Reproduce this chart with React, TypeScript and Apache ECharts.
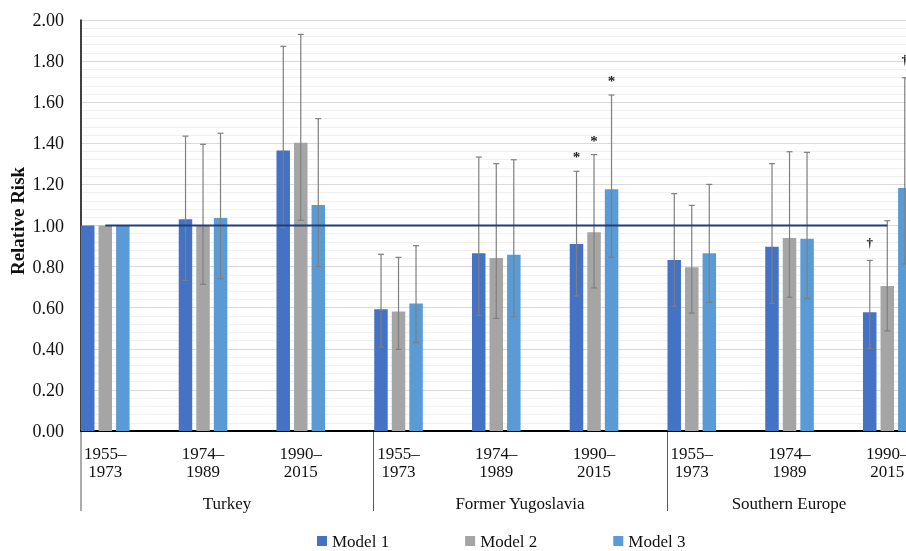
import React, { useEffect, useRef } from "react";
import * as echarts from "echarts";

const categories = [
  "1955–\n1973", "1974–\n1989", "1990–\n2015",
  "1955–\n1973", "1974–\n1989", "1990–\n2015",
  "1955–\n1973", "1974–\n1989", "1990–\n2015",
];
const regions = ["Turkey", "Former Yugoslavia", "Southern Europe"];

const model1 = [1.0, 1.03, 1.365, 0.592, 0.865, 0.91, 0.832, 0.897, 0.578];
const model1Upper = [null, 1.435, 1.872, 0.86, 1.333, 1.264, 1.155, 1.301, 0.83];
const model1Lower = [null, 0.733, 0.99, 0.409, 0.563, 0.657, 0.607, 0.621, 0.402];
const model1Marks = ["", "", "", "", "", "*", "", "", "†"];

const model2 = [1.0, 1.0, 1.403, 0.581, 0.842, 0.967, 0.797, 0.939, 0.706];
const model2Upper = [null, 1.395, 1.93, 0.845, 1.301, 1.345, 1.098, 1.359, 1.023];
const model2Lower = [null, 0.714, 1.025, 0.397, 0.548, 0.696, 0.574, 0.651, 0.487];
const model2Marks = ["", "", "", "", "", "*", "", "", ""];

const model3 = [1.0, 1.036, 1.1, 0.621, 0.858, 1.176, 0.865, 0.936, 1.182];
const model3Upper = [null, 1.449, 1.52, 0.902, 1.32, 1.635, 1.2, 1.356, 1.719];
const model3Lower = [null, 0.741, 0.8, 0.43, 0.556, 0.845, 0.626, 0.644, 0.813];
const model3Marks = ["", "", "", "", "", "*", "", "", "†"];

const referenceLine = categories.map(() => 1.0);

const FONT = "Liberation Serif, Times New Roman, serif";
const C1 = "#4472C4";
const C2 = "#A5A5A5";
const C3 = "#5B9BD5";
const ERR = "#7F7F7F";

const CHART_W = 940;
const VIEW_W = 906;

function errData(upper: (number | null)[], lower: (number | null)[]) {
  const out: any[] = [];
  upper.forEach((u, i) => {
    if (u != null && lower[i] != null) out.push([i, u, lower[i]]);
  });
  return out;
}

function makeRender(offset: number, marks: string[]) {
  return (params: any, api: any) => {
    const idx = api.value(0);
    const up = api.value(1);
    const lo = api.value(2);
    const p1 = api.coord([idx, up]);
    const p2 = api.coord([idx, lo]);
    const x = p1[0] + offset;
    const cap = 3;
    const lineStyle = { stroke: ERR, lineWidth: 1.2 };
    const children: any[] = [
      { type: "line", shape: { x1: x, y1: p1[1], x2: x, y2: p2[1] }, style: lineStyle },
      { type: "line", shape: { x1: x - cap, y1: p1[1], x2: x + cap, y2: p1[1] }, style: lineStyle },
      { type: "line", shape: { x1: x - cap, y1: p2[1], x2: x + cap, y2: p2[1] }, style: lineStyle },
    ];
    const m = marks[idx];
    if (m) {
      const isStar = m === "*";
      children.push({
        type: "text",
        style: {
          text: m,
          x: x,
          y: p1[1] - (isStar ? 14 : 18),
          align: "center",
          verticalAlign: "middle",
          font: (isStar ? "bold 15px " : "bold 13px ") + FONT,
          fill: "#222",
        },
      });
    }
    return { type: "group", children };
  };
}

export default function App() {
  const ref = useRef<HTMLDivElement>(null);
  useEffect(() => {
    if (!ref.current) return;
    const chart = echarts.init(ref.current, undefined, { renderer: "svg" });
    const top = 20;
    const bottom = 120;
    const barW = 13.5;
    const step = 17.5;
    const option: any = {
      animation: false,
      textStyle: { fontFamily: FONT },
      grid: [
        { left: 81, right: CHART_W - VIEW_W, top, bottom, containLabel: false },
        { left: 56.4, width: 879.75, top, bottom, containLabel: false },
      ],
      xAxis: [
        {
          gridIndex: 0, type: "value", min: 0, max: 1,
          axisLine: { show: true, onZero: false, lineStyle: { color: "#000", width: 2 } },
          axisTick: { show: false }, axisLabel: { show: false }, splitLine: { show: false },
        },
        {
          gridIndex: 1, type: "category", data: categories,
          axisLine: { show: false }, axisTick: { show: false },
          axisLabel: {
            interval: 0, margin: 13, color: "#111", fontSize: 17, lineHeight: 18, fontFamily: FONT,
          },
        },
      ],
      yAxis: [
        {
          gridIndex: 0, type: "value", min: 0, max: 2, interval: 0.2,
          axisLine: { show: true, lineStyle: { color: "#000", width: 1.5 } },
          axisTick: { show: false },
          axisLabel: {
            margin: 17, color: "#111", fontSize: 18, fontFamily: FONT,
            formatter: (v: number) => v.toFixed(2),
          },
          splitLine: { show: true, lineStyle: { color: "#D9D9D9", width: 1 } },
          minorTick: { show: false, splitNumber: 5 },
          minorSplitLine: { show: true, lineStyle: { color: "#F0F0F0", width: 1 } },
        },
        {
          gridIndex: 1, type: "value", min: 0, max: 2, interval: 0.2,
          axisLine: { show: false }, axisTick: { show: false }, axisLabel: { show: false },
          splitLine: { show: false },
        },
      ],
      legend: {
        data: ["Model 1", "Model 2", "Model 3"],
        left: 317, top: 532, itemWidth: 10, itemHeight: 10, itemGap: 76, icon: "rect",
        padding: 0,
        textStyle: { fontSize: 17, lineHeight: 18, fontFamily: FONT, color: "#111" },
      },
      series: [
        { name: "Model 1", type: "bar", xAxisIndex: 1, yAxisIndex: 1, data: model1, barWidth: barW, barGap: "30%", itemStyle: { color: C1 }, z: 2 },
        { name: "Model 2", type: "bar", xAxisIndex: 1, yAxisIndex: 1, data: model2, barWidth: barW, barGap: "30%", itemStyle: { color: C2 }, z: 2 },
        { name: "Model 3", type: "bar", xAxisIndex: 1, yAxisIndex: 1, data: model3, barWidth: barW, barGap: "30%", itemStyle: { color: C3 }, z: 2 },
        { type: "custom", xAxisIndex: 1, yAxisIndex: 1, data: errData(model1Upper, model1Lower), renderItem: makeRender(-step, model1Marks), z: 3 },
        { type: "custom", xAxisIndex: 1, yAxisIndex: 1, data: errData(model2Upper, model2Lower), renderItem: makeRender(0, model2Marks), z: 3 },
        { type: "custom", xAxisIndex: 1, yAxisIndex: 1, data: errData(model3Upper, model3Lower), renderItem: makeRender(step, model3Marks), z: 3 },
        {
          type: "line", xAxisIndex: 1, yAxisIndex: 1, data: referenceLine, symbol: "none",
          lineStyle: { color: "#203F7A", width: 2 }, z: 4, silent: true,
        },
      ],
      graphic: [
        { type: "line", shape: { x1: 81, y1: 431, x2: 81, y2: 511 }, style: { stroke: "#595959", lineWidth: 1 } },
        { type: "line", shape: { x1: 373.5, y1: 431, x2: 373.5, y2: 511 }, style: { stroke: "#595959", lineWidth: 1 } },
        { type: "line", shape: { x1: 667.5, y1: 431, x2: 667.5, y2: 511 }, style: { stroke: "#595959", lineWidth: 1 } },
        { type: "text", x: 227, y: 503, style: { text: regions[0], align: "center", verticalAlign: "middle", font: "17px " + FONT, fill: "#111" } },
        { type: "text", x: 520, y: 503, style: { text: regions[1], align: "center", verticalAlign: "middle", font: "17px " + FONT, fill: "#111" } },
        { type: "text", x: 789, y: 503, style: { text: regions[2], align: "center", verticalAlign: "middle", font: "17px " + FONT, fill: "#111" } },
        {
          type: "text", x: 17, y: 221, rotation: Math.PI / 2,
          style: { text: "Relative Risk", align: "center", verticalAlign: "middle", font: "bold 19px " + FONT, fill: "#111" },
        },
      ],
    };
    chart.setOption(option);
    return () => chart.dispose();
  }, []);
  return <div ref={ref} style={{ position: "fixed", left: 0, top: 0, width: CHART_W, height: 551 }} />;
}
